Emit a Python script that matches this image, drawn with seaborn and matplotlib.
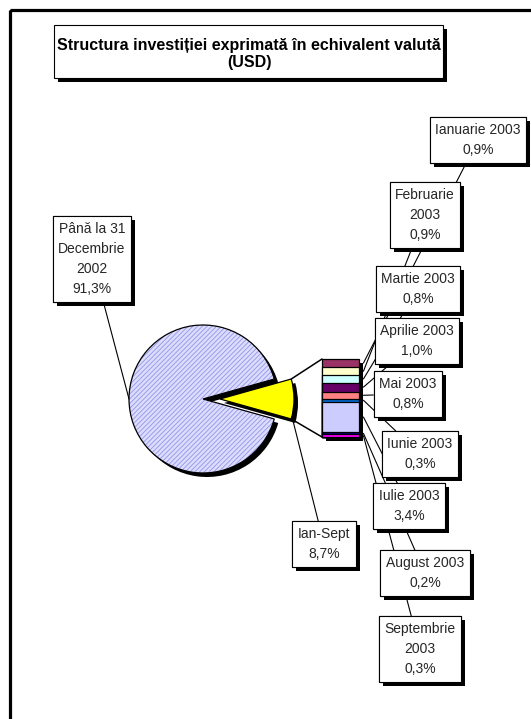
import numpy as np
import pandas as pd
import matplotlib
matplotlib.use('Agg')
import matplotlib.pyplot as plt
import matplotlib.patheffects as pe
from matplotlib.patches import Rectangle, ConnectionPatch
import seaborn as sns

# data
title = 'Structura investiției exprimată în echivalent valută\n(USD)'
main_label = 'Până la 31\nDecembrie\n2002'
main_pct = 91.3
other_label = 'Ian-Sept'
other_pct = 8.7
months = ['Ianuarie 2003', 'Februarie\n2003', 'Martie 2003', 'Aprilie 2003', 'Mai 2003',
          'Iunie 2003', 'Iulie 2003', 'August 2003', 'Septembrie\n2003']
month_pct = [0.9, 0.9, 0.8, 1.0, 0.8, 0.3, 3.4, 0.2, 0.3]
month_colors = ['#993366', '#FFFFCC', '#CCFFFF', '#660066', '#FF8080',
                '#0066CC', '#CCCCFF', '#000080', '#FF00FF']

# label box centres (pixels)
month_pos = [(478, 140), (425, 215), (418, 289), (417, 341), (408, 394),
             (420, 454), (409, 506), (425, 573), (420, 649)]
other_pos = (324, 544)
main_pos = (92, 259)

W, H = 531, 719
sns.set_theme(style='white')
plt.rcParams['font.family'] = ['Liberation Sans', 'DejaVu Sans']
plt.rcParams['hatch.linewidth'] = 0.6

fig = plt.figure(figsize=(W / 100, H / 100), dpi=100)
fig.patch.set_facecolor('white')


def px_axes(x0, y0, w, h):
    return fig.add_axes([x0 / W, 1 - (y0 + h) / H, w / W, h / H])


def fmt(v):
    return ('%.1f%%' % v).replace('.', ',')


shadow = [pe.SimplePatchShadow(offset=(2.9, -2.9), shadow_rgbFace='black', alpha=1), pe.Normal()]

# pie
pax = px_axes(103, 299, 200, 200)
start = other_pct / 2 * 3.6
pie_vals = [main_pct, other_pct]
R = 0.74
expl = [0, 0.17]
pax.pie(pie_vals, radius=R, explode=expl, startangle=start, center=(0.04, -0.04),
        colors=['black', 'black'], wedgeprops=dict(linewidth=0), frame=True)
wedges, _ = pax.pie(pie_vals, radius=R, explode=expl, startangle=start,
                    colors=['#dcdcfc', '#ffff00'],
                    wedgeprops=dict(edgecolor='#9494ea', linewidth=0), frame=True)
wedges[0].set_hatch('///////')
pax.pie(pie_vals, radius=R, explode=expl, startangle=start,
        wedgeprops=dict(fill=False, edgecolor='black', linewidth=0.9), frame=True)
pax.set_xlim(-1, 1)
pax.set_ylim(-1, 1)
pax.set_aspect('equal')
pax.axis('off')

# bar of the "other" slice
total = sum(month_pct)
cum = np.cumsum(month_pct[::-1])[::-1]
df = pd.DataFrame({'grp': other_label, 'month': months, 'cum': cum})
bax = px_axes(322, 359, 37, 78)
bax.add_patch(Rectangle((-0.5 + 4 / 37, -total * 4 / 78), 1, total, facecolor='black',
                        edgecolor='none', zorder=0, clip_on=False))
sns.barplot(data=df, x='grp', y='cum', hue='month', hue_order=months, palette=month_colors,
            dodge=False, width=1, saturation=1, edgecolor='black', linewidth=0.9,
            errorbar=None, legend=False, ax=bax)
for p in bax.patches:
    p.set_clip_on(False)
bax.set_xlim(-0.5, 0.5)
bax.set_ylim(0, total)
bax.axis('off')

# overlay for frame, title, labels
ov = fig.add_axes([0, 0, 1, 1])
ov.set_xlim(0, W)
ov.set_ylim(H, 0)
ov.axis('off')
ov.add_patch(Rectangle((10, 10), W, H, fill=False, edgecolor='black', linewidth=2.3))

tb = Rectangle((54, 25), 389, 53, facecolor='white', edgecolor='black', linewidth=0.8)
tb.set_path_effects(shadow)
ov.add_patch(tb)
ov.text(249, 54, title, ha='center', va='center', fontsize=11.5, fontweight='bold',
        linespacing=1.1, color='black')

# connectors pie -> bar
yel = wedges[1]
for ang, yb in [(yel.theta2, total), (yel.theta1, 0)]:
    pa = (yel.center[0] + yel.r * np.cos(np.radians(ang)),
          yel.center[1] + yel.r * np.sin(np.radians(ang)))
    ov.add_artist(ConnectionPatch(xyA=pa, coordsA=pax.transData, xyB=(-0.5, yb),
                                  coordsB=bax.transData, color='black', linewidth=1.1))

box = dict(boxstyle='square,pad=0.4', facecolor='white', edgecolor='black', linewidth=0.8)
arrow = dict(arrowstyle='-', color='black', linewidth=0.8, shrinkA=0, shrinkB=0)
txt_kw = dict(ha='center', va='center', fontsize=10, linespacing=1.55)


def label(text, xy, xycoords, pos):
    # leader line first, then the box again on top so every line runs behind every box
    ov.annotate(text, xy=xy, xycoords=xycoords, xytext=pos, textcoords='data',
                bbox=box, arrowprops=arrow, annotation_clip=False, zorder=3, **txt_kw)
    t = ov.text(pos[0], pos[1], text, bbox=box, zorder=4, **txt_kw)
    t.get_bbox_patch().set_path_effects(shadow)


mids = cum - np.array(month_pct) / 2
for name, v, m, pos in zip(months, month_pct, mids, month_pos):
    label(name + '\n' + fmt(v), (0.62, m), bax.transData, pos)

ang = yel.theta1 + 2
label(other_label + '\n' + fmt(other_pct),
      (yel.center[0] + yel.r * np.cos(np.radians(ang)), yel.center[1] + yel.r * np.sin(np.radians(ang))),
      pax.transData, other_pos)

big = wedges[0]
ang = (big.theta1 + big.theta2) / 2
label(main_label + '\n' + fmt(main_pct),
      (big.center[0] + big.r * np.cos(np.radians(ang)), big.center[1] + big.r * np.sin(np.radians(ang))),
      pax.transData, main_pos)

fig.savefig('out.png', dpi=100)
